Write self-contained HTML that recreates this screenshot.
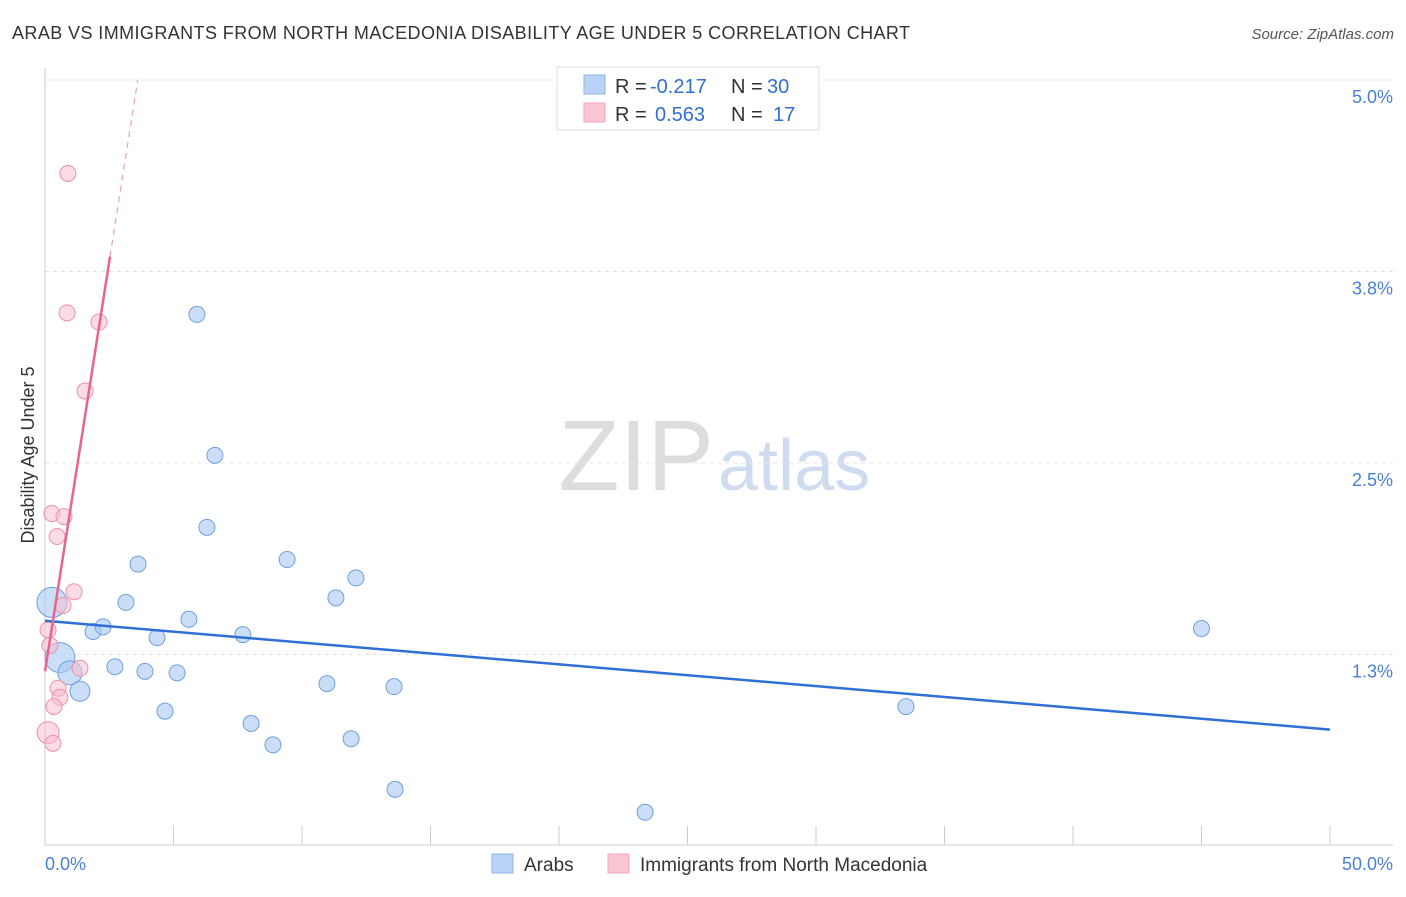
<!DOCTYPE html>
<html><head><meta charset="utf-8"><style>
body{margin:0;background:#fff;font-family:"Liberation Sans",sans-serif}
svg text{font-family:"Liberation Sans",sans-serif}
</style></head><body>
<svg id="chart" width="1406" height="892">
<text x="12" y="39" font-size="18" fill="#333" textLength="898">ARAB VS IMMIGRANTS FROM NORTH MACEDONIA DISABILITY AGE UNDER 5 CORRELATION CHART</text>
<text x="1394" y="39" font-size="15" fill="#555" font-style="italic" text-anchor="end">Source: ZipAtlas.com</text>
<text x="714" y="490" font-size="100" fill="#ddd" text-anchor="end" font-family="Liberation Serif">ZIP</text>
<text x="718" y="490" font-size="72" fill="#cfdcef">atlas</text>
<text transform="translate(34,455) rotate(-90)" font-size="18" fill="#333" text-anchor="middle">Disability Age Under 5</text>
<g id="grid"></g><g id="marks"></g>
<g>
<rect x="557" y="67" width="262" height="63" fill="#fff" stroke="#ddd"/>
<rect x="584" y="75" width="21" height="19" fill="#b8d3f5" stroke="#8fb6e8"/>
<rect x="584" y="103" width="21" height="19" fill="#f9c6d4" stroke="#f0a6bb"/>
<text x="615" y="93" font-size="20" fill="#333">R =</text>
<text x="650" y="93" font-size="20" fill="#2f6fd6">-0.217</text>
<text x="731" y="93" font-size="20" fill="#333">N =</text>
<text x="767" y="93" font-size="20" fill="#2f6fd6">30</text>
<text x="615" y="121" font-size="20" fill="#333">R =</text>
<text x="655" y="121" font-size="20" fill="#2f6fd6">0.563</text>
<text x="731" y="121" font-size="20" fill="#333">N =</text>
<text x="773" y="121" font-size="20" fill="#2f6fd6">17</text>
</g>
<g>
<rect x="492" y="854" width="21" height="19" fill="#b8d3f5" stroke="#8fb6e8"/>
<text x="524" y="871" font-size="19" fill="#333">Arabs</text>
<rect x="608" y="854" width="21" height="19" fill="#f9c6d4" stroke="#f0a6bb"/>
<text x="640" y="871" font-size="19" fill="#333">Immigrants from North Macedonia</text>
</g>
</svg>
<script>
const yTicks=[5.0,3.75,2.5,1.25];
const yTickLabels=["5.0%","3.8%","2.5%","1.3%"];
const arabX=[0.27,0.58,0.97,1.36,1.87,2.26,2.72,3.15,3.62,3.89,4.36,4.67,5.14,5.60,5.91,6.30,6.61,7.70,8.02,8.87,9.42,10.97,11.32,11.91,12.10,13.58,13.62,23.35,33.5,45.0];
const arabY=[1.59,1.23,1.13,1.01,1.40,1.43,1.17,1.59,1.84,1.14,1.36,0.88,1.13,1.48,3.47,2.08,2.55,1.38,0.80,0.66,1.87,1.06,1.62,0.70,1.75,1.04,0.37,0.22,0.91,1.42];
const arabR=[15,15,12,10,8,8,8,8,8,8,8,8,8,8,8,8,8,8,8,8,8,8,8,8,8,8,8,8,8,8];
const macX=[0.89,0.86,2.10,1.56,0.27,0.74,0.47,1.13,0.70,0.12,0.19,1.36,0.51,0.58,0.35,0.12,0.31];
const macY=[4.39,3.48,3.42,2.97,2.17,2.15,2.02,1.66,1.57,1.41,1.31,1.16,1.03,0.97,0.91,0.74,0.67];
const macR=[8,8,8,8,8,8,8,8,8,8,8,8,8,8,8,11,8];
const arabTrend=[1.47,0.76];
const macTrend=[1.14,1.07];
const X=v=>45+v*25.7, Y=v=>80+(5-v)*153.2;
const NS="http://www.w3.org/2000/svg";
const grid=document.getElementById('grid'), marks=document.getElementById('marks');
function mk(tag,a,p){const e=document.createElementNS(NS,tag);for(const k in a)e.setAttribute(k,a[k]);p.appendChild(e);return e;}
yTicks.forEach((t,i)=>{
 const l=mk('line',{x1:45,x2:1393,y1:Y(t),y2:Y(t),stroke:'#e3e3e3','stroke-dasharray':'4,4'},grid);
 
 
 const tx=mk('text',{x:1393,y:Y(t)+23,'font-size':18,fill:'#4a7fd8','text-anchor':'end'},grid);
 tx.textContent=yTickLabels[i];
 
 
});
const ax=mk('line',{x1:45,x2:1393,y1:845,y2:845,stroke:'#ccc'},grid);


const ay=mk('line',{x1:45,x2:45,y1:68,y2:845,stroke:'#ccc'},grid);


for(let i=0;i<=10;i++){const t=mk('line',{x1:X(i*5),x2:X(i*5),y1:826,y2:845,stroke:'#ccc'},grid);
 
 }
[["0.0%",45,"start"],["50.0%",1393,"end"]].forEach(d=>{const t=mk('text',{x:d[1],y:870,'font-size':18,fill:'#4a7fd8','text-anchor':d[2]},grid);t.textContent=d[0];
 
 });
arabX.forEach((x,i)=>{const c=mk('circle',{cx:X(x),cy:Y(arabY[i]),r:arabR[i],fill:'rgba(168,200,242,0.6)',stroke:'#6f9fe0','stroke-width':1},marks);
 
 });
macX.forEach((x,i)=>{const c=mk('circle',{cx:X(x),cy:Y(macY[i]),r:macR[i],fill:'rgba(248,190,206,0.55)',stroke:'#ee91ab','stroke-width':1},marks);
 
 });
const bl=mk('line',{x1:X(0),y1:Y(arabTrend[0]),x2:X(50),y2:Y(arabTrend[1]),stroke:'#2f6fd6','stroke-width':2.5},marks);


const pf=x=>macTrend[0]+macTrend[1]*x;
const pl=mk('line',{x1:X(0),y1:Y(pf(0)),x2:X(2.53),y2:Y(pf(2.53)),stroke:'#e8638e','stroke-width':2.5},marks);


const xe=(5-macTrend[0])/macTrend[1];
const pd=mk('line',{x1:X(2.53),y1:Y(pf(2.53)),x2:X(xe),y2:Y(5),stroke:'#eea0b8','stroke-width':1.2,'stroke-dasharray':'6,5'},marks);


</script>
</body></html>
